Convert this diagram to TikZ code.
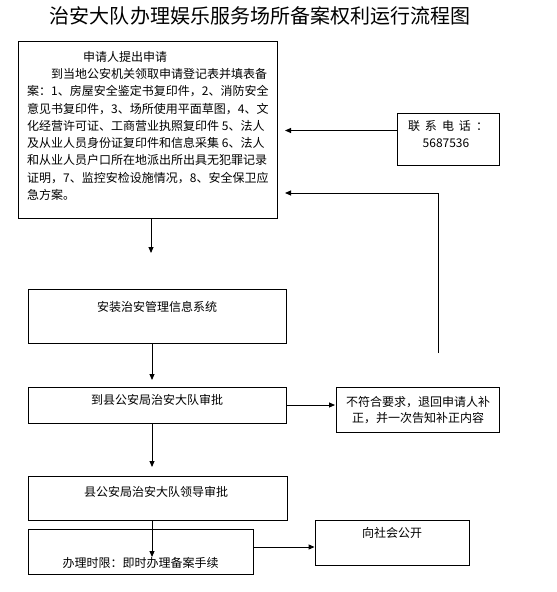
\documentclass[tikz,border=0pt]{standalone}
\usepackage{fontspec}
\setmainfont{Noto Sans CJK SC}
\usetikzlibrary{arrows.meta,fit}
\begin{document}
\begin{tikzpicture}[x=1bp,y=-1bp,
  box/.style={draw,line width=0.9bp,inner sep=0pt},
  txt/.style={inner sep=0pt,text height=10.2bp,text depth=1.8bp,font=\fontsize{12bp}{17bp}\selectfont},
  arr/.style={line width=0.9bp,-{Triangle[length=6bp,width=5bp]}}]
\useasboundingbox[fill=white] (0,0) rectangle (557,592);
\node[inner sep=0pt,text height=17bp,text depth=3bp,font=\fontsize{20bp}{24bp}\selectfont] (title) at (260,17) {治安大队办理娱乐服务场所备案权利运行流程图};
% boxes
\node[box,fit={(18,41) (277,218)}] (b1) {};
\node[box,fit={(397,113) (499,165)}] (phone) {};
\node[box,fit={(28,289) (286,343)}] (b2) {};
\node[box,fit={(28,387) (286,423)}] (b3) {};
\node[box,fit={(336,387) (499,432)}] (b4) {};
\node[box,fit={(28,476) (287,520)}] (b5) {};
\node[box,fit={(28,529) (253,574)}] (b6) {};
\node[box,fit={(315,520) (469,565)}] (b7) {};
% box 1 text
\foreach \i/\x/\t in {
  1/83/申请人提出申请,
  2/51/到当地公安机关领取申请登记表并填表备,
  3/27/案：1、房屋安全鉴定书复印件，2、消防安全,
  4/27/意见书复印件，3、场所使用平面草图，4、文,
  5/27/化经营许可证、工商营业执照复印件 5、法人,
  6/27/及从业人员身份证复印件和信息采集 6、法人,
  7/27/和从业人员户口所在地派出所出具无犯罪记录,
  8/27/证明，7、监控安检设施情况，8、安全保卫应,
  9/27/急方案。}
  \node[txt,anchor=west] (l\i) at (\x,{57+17.3*(\i-1)}) {\t};
% other texts
\node[txt] (ph1) at (448,126) {联\hspace{5bp}系\hspace{5bp}电\hspace{5bp}话\hspace{5bp}：};
\node[txt] (ph2) at (446,143) {5687536};
\node[txt] (t2) at (157,307) {安装治安管理信息系统};
\node[txt] (t3) at (157,400) {到县公安局治安大队审批};
\node[txt] (t4a) at (418,402) {不符合要求，退回申请人补};
\node[txt] (t4b) at (418,418) {正，并一次告知补正内容};
\node[txt] (t5) at (156,492) {县公安局治安大队领导审批};
\node[txt] (t6) at (140.5,563) {办理时限：即时办理备案手续};
\node[txt] (t7) at (392,533) {向社会公开};
% connectors
\coordinate (a1) at (285,130.5);
\draw[arr] (phone.west |- a1) -- (a1);
\coordinate (r0) at (438,353);
\coordinate (r1) at (285,193);
\draw[arr] (r0) |- (r1);
\coordinate (a2) at (151,253);
\draw[arr] (b1.south -| a2) -- (a2);
\coordinate (a3) at (152,380);
\draw[arr] (b2.south -| a3) -- (a3);
\coordinate (a4) at (335,405);
\draw[arr] (b3.east |- a4) -- (a4);
\coordinate (a5) at (152,467);
\draw[arr] (b3.south -| a5) -- (a5);
\coordinate (a6) at (152,557);
\draw[arr] (b5.south -| a6) -- (a6);
\draw[arr] (b6.east |- 0,547) -- (b7.west |- 0,547);
\end{tikzpicture}
\end{document}
